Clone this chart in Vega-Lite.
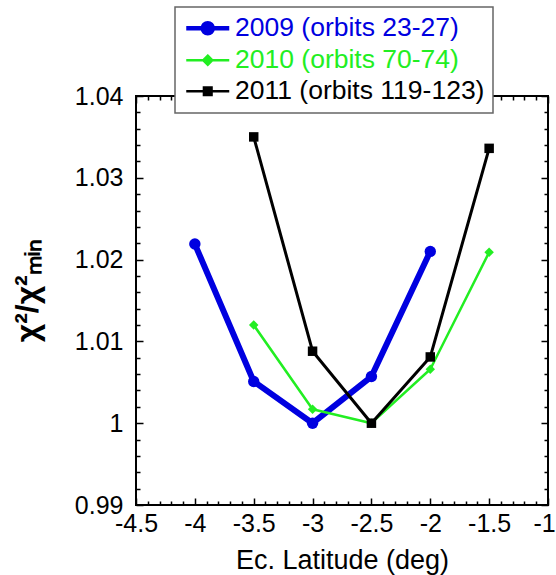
{
  "$schema": "https://vega.github.io/schema/vega-lite/v6.json",
  "autosize": "none",
  "width": 412,
  "height": 409,
  "padding": {"left": 136, "top": 96, "right": 8, "bottom": 70},
  "background": "white",
  "config": {
    "view": {"stroke": "black", "strokeWidth": 2},
    "axis": {"labelFont": "Liberation Sans", "titleFont": "Liberation Sans", "labelColor": "black", "titleColor": "black", "domain": false, "ticks": false, "grid": true, "gridColor": "black", "gridOpacity": 1, "gridWidth": 1.5}
  },
  "data": {
    "values": [
      {"year": "2009", "series": "2009 (orbits 23-27)", "lat": -4.0, "chi": 1.0219},
      {"year": "2009", "series": "2009 (orbits 23-27)", "lat": -3.5, "chi": 1.0051},
      {"year": "2009", "series": "2009 (orbits 23-27)", "lat": -3.0, "chi": 1.0000},
      {"year": "2009", "series": "2009 (orbits 23-27)", "lat": -2.5, "chi": 1.0057},
      {"year": "2009", "series": "2009 (orbits 23-27)", "lat": -2.0, "chi": 1.0210},
      {"year": "2010", "series": "2010 (orbits 70-74)", "lat": -3.5, "chi": 1.0120},
      {"year": "2010", "series": "2010 (orbits 70-74)", "lat": -3.0, "chi": 1.0017},
      {"year": "2010", "series": "2010 (orbits 70-74)", "lat": -2.5, "chi": 1.0000},
      {"year": "2010", "series": "2010 (orbits 70-74)", "lat": -2.0, "chi": 1.0066},
      {"year": "2010", "series": "2010 (orbits 70-74)", "lat": -1.5, "chi": 1.0209},
      {"year": "2011", "series": "2011 (orbits 119-123)", "lat": -3.5, "chi": 1.0350},
      {"year": "2011", "series": "2011 (orbits 119-123)", "lat": -3.0, "chi": 1.0088},
      {"year": "2011", "series": "2011 (orbits 119-123)", "lat": -2.5, "chi": 1.0000},
      {"year": "2011", "series": "2011 (orbits 119-123)", "lat": -2.0, "chi": 1.0081},
      {"year": "2011", "series": "2011 (orbits 119-123)", "lat": -1.5, "chi": 1.0336}
    ]
  },
  "encoding": {
    "x": {"field": "lat", "type": "quantitative", "scale": {"domain": [-4.5, -1], "nice": false, "zero": false},
      "axis": {"orient": "bottom",
        "values": [-4.5, -4.4, -4.3, -4.2, -4.1, -4, -3.9, -3.8, -3.7, -3.6, -3.5, -3.4, -3.3, -3.2, -3.1, -3, -2.9, -2.8, -2.7, -2.6, -2.5, -2.4, -2.3, -2.2, -2.1, -2, -1.9, -1.8, -1.7, -1.6, -1.5, -1.4, -1.3, -1.2, -1.1, -1],
        "labelExpr": "abs(datum.value*2 - round(datum.value*2)) < 0.000001 ? datum.value + '' : ''",
        "gridDash": {"condition": {"test": "abs(datum.value*2 - round(datum.value*2)) < 0.000001", "value": [7, 395, 7, 20]}, "value": [4, 401, 4, 20]},
        "labelOffset": {"condition": {"test": "datum.value === -1", "value": -4}, "value": 0},
        "labelFontSize": 25, "labelPadding": 6, "labelFlush": false, "labelOverlap": false, "labelBound": false,
        "title": "Ec. Latitude (deg)", "titleFontSize": 27, "titleFontWeight": "normal", "titlePadding": 11}},
    "y": {"field": "chi", "type": "quantitative", "scale": {"domain": [0.99, 1.04], "nice": false, "zero": false},
      "axis": {"orient": "left",
        "values": [0.99, 0.992, 0.994, 0.996, 0.998, 1, 1.002, 1.004, 1.006, 1.008, 1.01, 1.012, 1.014, 1.016, 1.018, 1.02, 1.022, 1.024, 1.026, 1.028, 1.03, 1.032, 1.034, 1.036, 1.038, 1.04],
        "labelExpr": "abs(datum.value*100 - round(datum.value*100)) < 0.000001 ? datum.value + '' : ''",
        "gridDash": {"condition": {"test": "abs(datum.value*100 - round(datum.value*100)) < 0.000001", "value": [7, 398, 7, 20]}, "value": [4, 404, 4, 20]},
        "labelFontSize": 25, "labelPadding": 13, "labelFlush": false, "labelOverlap": false,
        "title": "χ²/χ²ₘᵢₙ", "titleFontSize": 32, "titleFontWeight": "bold", "titlePadding": 30, "titleY": 194}}
  },
  "layer": [
    {
      "transform": [{"filter": {"field": "year", "equal": "2009"}}],
      "mark": {"type": "line", "strokeWidth": 6, "strokeJoin": "round", "strokeCap": "round"},
      "encoding": {
        "color": {"field": "series", "type": "nominal",
          "scale": {"domain": ["2009 (orbits 23-27)", "2010 (orbits 70-74)", "2011 (orbits 119-123)"], "range": ["#0000e0", "#22ee22", "#000000"]},
          "legend": {
            "orient": "none", "legendX": 39, "legendY": -89, "title": null,
            "fillColor": "white", "strokeColor": "#666666", "padding": 8,
            "labelFont": "Liberation Sans", "labelFontSize": 26.5, "labelLimit": 400,
            "symbolSize": 400, "symbolOffset": 11.5, "labelOffset": 14, "rowPadding": 4,
            "encode": {
              "legend": {"update": {"strokeWidth": {"value": 1.5}}},
              "symbols": {"update": {
                "shape": {"signal": "datum.value === '2009 (orbits 23-27)' ? 'M-2.15,0H2.15M0.5,0A0.5,0.5 0 1 1 -0.5,0A0.5,0.5 0 1 1 0.5,0Z' : datum.value === '2010 (orbits 70-74)' ? 'M-2.15,0H2.15M0,-0.45L0.45,0L0,0.45L-0.45,0Z' : 'M-2.15,0H2.15M-0.38,-0.38H0.38V0.38H-0.38Z'"},
                "fill": {"signal": "scale('color', datum.value)"},
                "stroke": {"signal": "scale('color', datum.value)"},
                "strokeWidth": {"signal": "datum.value === '2009 (orbits 23-27)' ? 4.5 : 2.5"},
                "opacity": {"value": 1}
              }},
              "labels": {"update": {"fill": {"signal": "scale('color', datum.value)"}}}
            }
          }}
      }
    },
    {
      "transform": [{"filter": {"field": "year", "equal": "2009"}}],
      "mark": {"type": "point", "filled": true, "shape": "circle", "size": 130, "color": "#0000e0", "opacity": 1}
    },
    {
      "transform": [{"filter": {"field": "year", "equal": "2010"}}],
      "mark": {"type": "line", "strokeWidth": 2.5, "strokeJoin": "round"},
      "encoding": {"color": {"field": "series", "type": "nominal"}}
    },
    {
      "transform": [{"filter": {"field": "year", "equal": "2010"}}],
      "mark": {"type": "point", "filled": true, "shape": "diamond", "size": 90, "color": "#22ee22", "opacity": 1}
    },
    {
      "transform": [{"filter": {"field": "year", "equal": "2011"}}],
      "mark": {"type": "line", "strokeWidth": 3, "strokeJoin": "round"},
      "encoding": {"color": {"field": "series", "type": "nominal"}}
    },
    {
      "transform": [{"filter": {"field": "year", "equal": "2011"}}],
      "mark": {"type": "point", "filled": true, "shape": "square", "size": 90, "color": "#000000", "opacity": 1}
    }
  ]
}
